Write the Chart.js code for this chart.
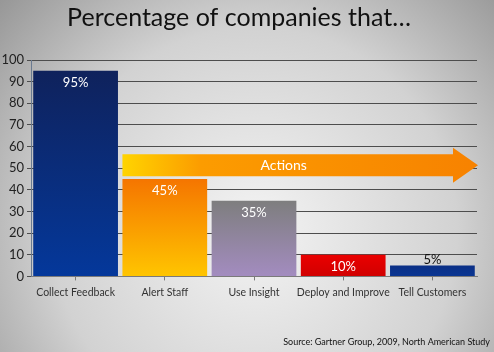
<!DOCTYPE html>
<html>
<head>
<meta charset="utf-8">
<script src="https://cdn.jsdelivr.net/npm/chart.js@4"></script>
<style>
  html, body { margin: 0; padding: 0; }
  #wrap { width: 494px; height: 352px; position: relative; }
</style>
</head>
<body>
<div id="wrap"><canvas id="chart"></canvas></div>
<script>
// data
const categories = ['Collect Feedback', 'Alert Staff', 'Use Insight', 'Deploy and Improve', 'Tell Customers'];
const percentages = [95, 45, 35, 10, 5];
const topColors = ['#0f225c', '#f57500', '#7e7e7e', '#ea0000', '#0a2f86'];
const bottomColors = ['#04389b', '#ffc500', '#a38cc0', '#d00000', '#0a3693'];
const arrowLabel = 'Actions';
const sourceNote = 'Source: Gartner Group, 2009, North American Study';

const FONT = 'Lato, "Open Sans", sans-serif';

// grey vignette behind everything
const backdrop = {
  id: 'backdrop',
  beforeDraw(chart) {
    const {ctx, width, height} = chart;
    const g = ctx.createRadialGradient(255, 230, 10, 255, 230, 360);
    g.addColorStop(0, '#f2f2f2');
    g.addColorStop(0.55, '#d2d2d2');
    g.addColorStop(1, '#909090');
    ctx.save();
    ctx.fillStyle = g;
    ctx.fillRect(0, 0, width, height);
    ctx.restore();
  }
};

// the orange "Actions" arrow plus value labels
const overlay = {
  id: 'overlay',
  afterDatasetsDraw(chart) {
    const {ctx, chartArea} = chart;
    const y = chart.scales.y;
    const bars = chart.getDatasetMeta(0).data;

    // arrow from the left edge of the second bar to the right edge of the plot
    const left = bars[1].x - bars[1].width / 2;
    const tip = chartArea.right + 1;
    const headBase = tip - 25;
    const bodyTop = y.getPixelForValue(56.5);
    const bodyBot = y.getPixelForValue(46.3);
    const headTop = y.getPixelForValue(59.5);
    const headBot = y.getPixelForValue(43.3);
    const g = ctx.createLinearGradient(left, 0, tip, 0);
    g.addColorStop(0, '#ffd400');
    g.addColorStop(0.22, '#fc9c00');
    g.addColorStop(1, '#f78200');
    ctx.save();
    ctx.fillStyle = g;
    ctx.beginPath();
    ctx.moveTo(left, bodyTop);
    ctx.lineTo(headBase, bodyTop);
    ctx.lineTo(headBase, headTop);
    ctx.lineTo(tip, (bodyTop + bodyBot) / 2);
    ctx.lineTo(headBase, headBot);
    ctx.lineTo(headBase, bodyBot);
    ctx.lineTo(left, bodyBot);
    ctx.closePath();
    ctx.fill();
    ctx.fillStyle = '#ffffff';
    ctx.font = '14px ' + FONT;
    ctx.textAlign = 'center';
    ctx.textBaseline = 'middle';
    ctx.fillText(arrowLabel, (left + headBase) / 2 - 4, (bodyTop + bodyBot) / 2);

    // value labels
    ctx.font = '13px ' + FONT;
    bars.forEach((bar, i) => {
      const v = percentages[i];
      let ty, color = '#ffffff';
      if (v >= 20) {
        ty = bar.y + 12;
      } else if (v >= 8) {
        ty = (bar.y + bar.base) / 2 + 1;
      } else {
        ty = bar.y - 6;
        color = '#111111';
      }
      ctx.fillStyle = color;
      ctx.fillText(v + '%', bar.x, ty);
    });

    ctx.restore();
  },
  afterDraw(chart) {
    const {ctx, width, height} = chart;
    ctx.save();
    ctx.fillStyle = '#111111';
    ctx.font = '9px ' + FONT;
    ctx.textAlign = 'right';
    ctx.textBaseline = 'middle';
    ctx.fillText(sourceNote, width - 4, height - 10);
    ctx.restore();
  }
};

new Chart(document.getElementById('chart'), {
  type: 'bar',
  data: {
    labels: categories,
    datasets: [{
      data: percentages,
      backgroundColor(context) {
        const chart = context.chart;
        if (!chart.chartArea) return topColors[context.dataIndex];
        const i = context.dataIndex;
        const top = chart.scales.y.getPixelForValue(percentages[i]);
        const bottom = chart.scales.y.getPixelForValue(0);
        const g = chart.ctx.createLinearGradient(0, top, 0, bottom);
        g.addColorStop(0, topColors[i]);
        g.addColorStop(1, bottomColors[i]);
        return g;
      },
      borderWidth: 0,
      barPercentage: 0.95,
      categoryPercentage: 1
    }]
  },
  options: {
    responsive: true,
    maintainAspectRatio: false,
    animation: false,
    layout: { padding: { left: 1, right: 17, top: 0, bottom: 47 } },
    plugins: {
      legend: { display: false },
      tooltip: { enabled: false },
      title: {
        display: true,
        text: 'Percentage of companies that…',
        color: '#111111',
        font: { family: FONT, size: 25, weight: 'normal' },
        padding: { top: 3, bottom: 27 }
      }
    },
    scales: {
      x: {
        grid: { display: true, drawOnChartArea: false, offset: false, color: '#7a7a7a', tickLength: 4 },
        border: { display: true, color: '#7a7a7a' },
        ticks: { color: '#333333', font: { family: FONT, size: 10.5 }, padding: 6, maxRotation: 0, autoSkip: false }
      },
      y: {
        min: 0,
        max: 100,
        afterFit(scale) { scale.width = 30; },
        ticks: { stepSize: 10, color: '#222222', font: { family: FONT, size: 13 }, padding: 3 },
        grid: { color: '#4d4d4d', lineWidth: 1, tickLength: 4 },
        border: { display: true, color: '#6a7a90' }
      }
    }
  },
  plugins: [backdrop, overlay]
});
</script>
</body>
</html>
